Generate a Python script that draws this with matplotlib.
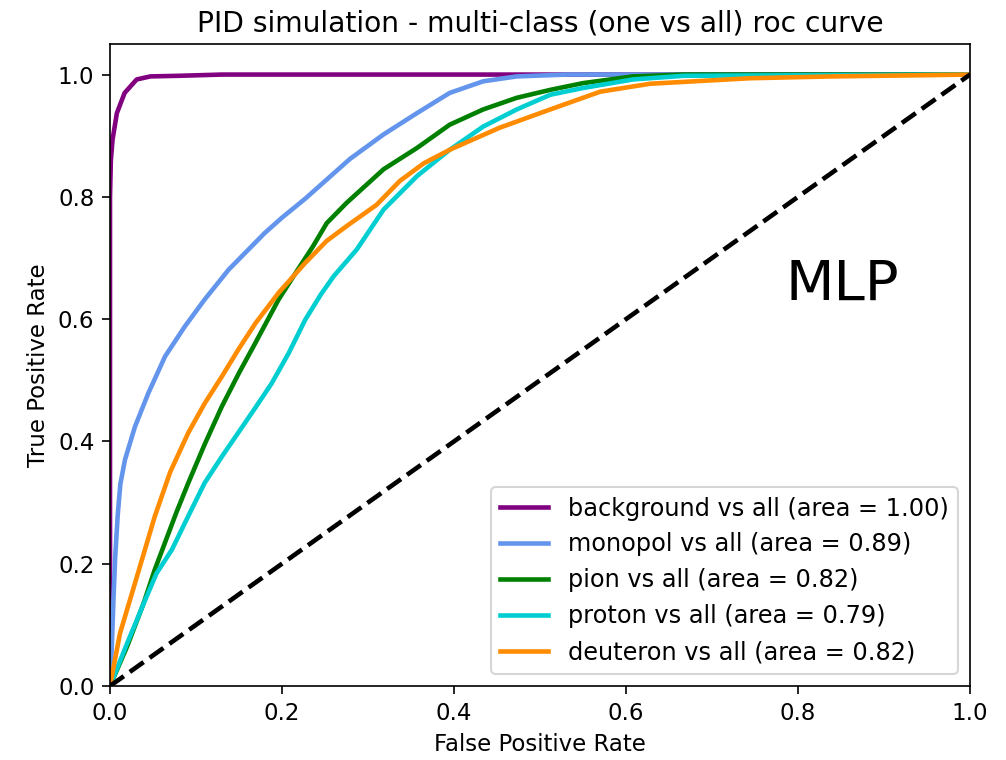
import matplotlib
matplotlib.use("Agg")
import matplotlib.pyplot as plt

# curvas ROC (fpr, tpr)
bkg_fpr = [0, 0.0, 0.001, 0.003, 0.008, 0.017, 0.031, 0.047, 0.08, 0.13, 1.0]
bkg_tpr = [0, 0.80, 0.86, 0.894, 0.937, 0.970, 0.992, 0.997, 0.998, 1.0, 1.0]

mono_fpr = [0, 0.002, 0.004, 0.006, 0.009, 0.012, 0.0174, 0.029, 0.0446, 0.064, 0.087, 0.110,
            0.138, 0.180, 0.200, 0.227, 0.279, 0.318, 0.357, 0.395, 0.434, 0.473, 0.531, 1.0]
mono_tpr = [0, 0.06, 0.14, 0.21, 0.28, 0.33, 0.370, 0.424, 0.479, 0.539, 0.588, 0.632,
            0.681, 0.741, 0.766, 0.797, 0.862, 0.902, 0.937, 0.970, 0.989, 0.997, 1.0, 1.0]

pion_fpr = [0, 0.02, 0.039, 0.052, 0.0775, 0.091, 0.110, 0.130, 0.150, 0.169, 0.196, 0.217,
            0.236, 0.252, 0.275, 0.318, 0.357, 0.395, 0.434, 0.473, 0.512, 0.550, 0.608, 0.667, 1.0]
pion_tpr = [0, 0.065, 0.135, 0.190, 0.285, 0.332, 0.395, 0.457, 0.512, 0.561, 0.632, 0.678,
            0.719, 0.757, 0.790, 0.845, 0.880, 0.918, 0.943, 0.962, 0.975, 0.986, 0.997, 1.0, 1.0]

prot_fpr = [0, 0.02, 0.041, 0.054, 0.072, 0.090, 0.110, 0.130, 0.149, 0.168, 0.188, 0.208,
            0.227, 0.245, 0.260, 0.287, 0.318, 0.357, 0.395, 0.434, 0.473, 0.512, 0.550,
            0.608, 0.667, 1.0]
prot_tpr = [0, 0.07, 0.141, 0.184, 0.223, 0.275, 0.332, 0.375, 0.414, 0.453, 0.495, 0.545,
            0.599, 0.640, 0.670, 0.714, 0.779, 0.834, 0.877, 0.915, 0.943, 0.967, 0.978,
            0.992, 0.998, 1.0]

deut_fpr = [0, 0.0116, 0.029, 0.052, 0.070, 0.091, 0.110, 0.130, 0.150, 0.169, 0.196, 0.227,
            0.252, 0.275, 0.310, 0.337, 0.365, 0.395, 0.453, 0.512, 0.570, 0.628, 0.744, 0.84, 1.0]
deut_tpr = [0, 0.086, 0.168, 0.277, 0.350, 0.414, 0.462, 0.506, 0.552, 0.593, 0.643, 0.692,
            0.728, 0.752, 0.787, 0.826, 0.855, 0.877, 0.913, 0.943, 0.972, 0.985, 0.994, 0.997, 1.0]

clases = ["background", "monopol", "pion", "proton", "deuteron"]
areas = [1.00, 0.89, 0.82, 0.79, 0.82]
colores = ["purple", "cornflowerblue", "green", "darkturquoise", "darkorange"]
curvas = [(bkg_fpr, bkg_tpr), (mono_fpr, mono_tpr), (pion_fpr, pion_tpr),
          (prot_fpr, prot_tpr), (deut_fpr, deut_tpr)]

plt.rcParams["font.size"] = 11
plt.rcParams["xtick.major.size"] = 4
plt.rcParams["ytick.major.size"] = 4

fig = plt.figure(figsize=(1006 / 150, 760 / 150), dpi=150)
ax = fig.add_axes([110 / 1006, 1 - 686 / 760, 860 / 1006, 642 / 760])

for (fpr, tpr), nombre, area, color in zip(curvas, clases, areas, colores):
    ax.plot(fpr, tpr, color=color, lw=2.2,
            label="{0} vs all (area = {1:0.2f})".format(nombre, area))

ax.plot([0, 1], [0, 1], "k--", lw=2.2)
ax.set_xlim(0.0, 1.0)
ax.set_ylim(0.0, 1.05)
ax.set_xlabel("False Positive Rate")
ax.set_ylabel("True Positive Rate")
ax.set_title("PID simulation - multi-class (one vs all) roc curve", fontsize=13.5)
ax.text(0.785, 0.632, "MLP", fontsize=27)
ax.legend(loc="lower right", fontsize=11.5)

fig.savefig("out.png", dpi=150)
plt.close()
